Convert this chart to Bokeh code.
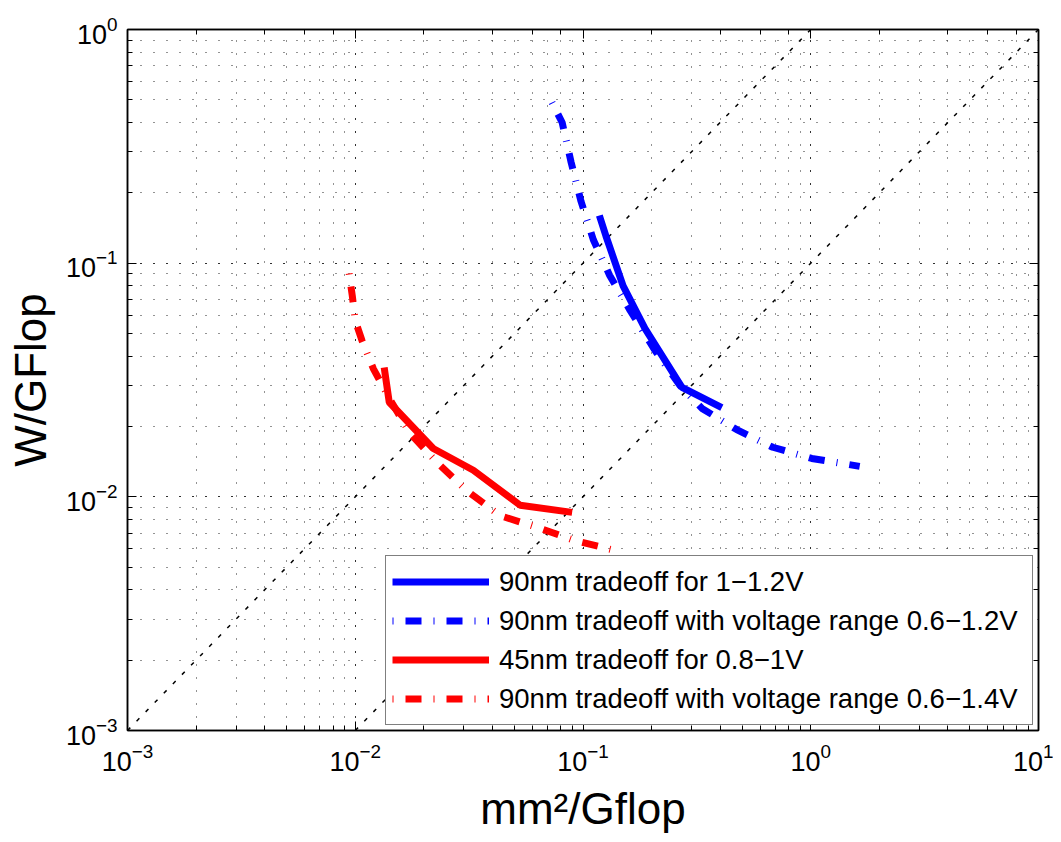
from bokeh.plotting import figure
from bokeh.models import Range1d, LogAxis, Legend, LegendItem
from bokeh.embed import file_html
from bokeh.resources import INLINE

# ---- data ----
blue_solid_x = [0.118, 0.126, 0.150, 0.187, 0.272, 0.407]
blue_solid_y = [0.160, 0.131, 0.080, 0.0526, 0.0294, 0.0241]

blue_dd_x = [0.0731, 0.081, 0.0887, 0.098, 0.111, 0.131, 0.161, 0.207, 0.266, 0.333, 0.473, 0.681, 1.01, 1.64]
blue_dd_y = [0.487, 0.40, 0.27, 0.184, 0.126, 0.0886, 0.0628, 0.0423, 0.030, 0.0239, 0.0194, 0.0163, 0.0146, 0.0135]

red_solid_x = [0.0134, 0.0141, 0.022, 0.033, 0.053, 0.0896]
red_solid_y = [0.0358, 0.0254, 0.0161, 0.013, 0.0092, 0.00858]

red_dd_x = [0.0094, 0.0097, 0.0100, 0.0107, 0.0120, 0.0143, 0.0174, 0.0231, 0.031, 0.0433, 0.063, 0.092, 0.138]
red_dd_y = [0.0903, 0.0728, 0.0569, 0.0467, 0.0354, 0.0258, 0.0187, 0.0139, 0.0106, 0.0083, 0.0074, 0.0065, 0.0059]

diag1_x = [1e-3, 1.0]
diag1_y = [1e-3, 1.0]
diag2_x = [1e-2, 10.0]
diag2_y = [1e-3, 1.0]

labels = [
    "90nm tradeoff for 1\u22121.2V",
    "90nm tradeoff with voltage range 0.6\u22121.2V",
    "45nm tradeoff for 0.8\u22121V",
    "90nm tradeoff with voltage range 0.6\u22121.4V",
]
x_label = "mm\u00b2/Gflop"
y_label = "W/GFlop"

FONT = "Liberation Sans"

p = figure(
    x_axis_type="log", y_axis_type="log",
    x_range=Range1d(1e-3, 10), y_range=Range1d(1e-3, 1),
    frame_width=911, frame_height=701,
    min_border_left=127, min_border_top=29, min_border_right=15, min_border_bottom=100,
    output_backend="svg", toolbar_location=None,
)
p.background_fill_color = "white"
p.border_fill_color = "white"
p.outline_line_color = "black"
p.outline_line_width = 1.5

# grid
for g in (p.xgrid, p.ygrid):
    g.grid_line_color = "black"
    g.grid_line_alpha = 0.85
    g.grid_line_dash = "1 12"
    g.minor_grid_line_color = "black"
    g.minor_grid_line_alpha = 0.85
    g.minor_grid_line_dash = "1 12"

def style_axis(ax, show_labels=True):
    ax.axis_line_color = "black"
    ax.axis_line_width = 1.5
    ax.major_tick_in = 9
    ax.major_tick_out = 0
    ax.minor_tick_in = 5
    ax.minor_tick_out = 0
    ax.major_tick_line_color = "black"
    ax.minor_tick_line_color = "black"
    ax.major_tick_line_width = 1
    ax.minor_tick_line_width = 1
    if show_labels:
        ax.major_label_text_font = FONT
        ax.major_label_text_font_size = "27px"
        ax.major_label_text_color = "black"
        ax.axis_label_text_font = FONT
        ax.axis_label_text_font_size = "44px"
        ax.axis_label_text_font_style = "normal"
        ax.axis_label_text_color = "black"
    else:
        ax.major_label_text_font_size = "2px"
        ax.major_label_text_alpha = 0.0
        ax.major_label_standoff = 0

style_axis(p.xaxis[0])
style_axis(p.yaxis[0])
p.xaxis[0].axis_label = x_label
p.yaxis[0].axis_label = y_label
p.xaxis[0].major_label_standoff = 12
p.yaxis[0].major_label_standoff = 10
p.xaxis[0].axis_label_standoff = 10
p.yaxis[0].axis_label_standoff = 8

top_ax = LogAxis()
right_ax = LogAxis()
style_axis(top_ax, False)
style_axis(right_ax, False)
p.add_layout(top_ax, "above")
p.add_layout(right_ax, "right")

# diagonal reference lines
p.line(diag1_x, diag1_y, line_color="black", line_width=1.5, line_dash="4 9")
p.line(diag2_x, diag2_y, line_color="black", line_width=1.5, line_dash="4 9")

DD = "1 12 16 12"
r1 = p.line(blue_solid_x, blue_solid_y, line_color="#0000ff", line_width=7)
r2 = p.line(blue_dd_x, blue_dd_y, line_color="#0000ff", line_width=7, line_dash=DD)
r3 = p.line(red_solid_x, red_solid_y, line_color="#ff0000", line_width=7)
r4 = p.line(red_dd_x, red_dd_y, line_color="#ff0000", line_width=7, line_dash=DD)

legend = Legend(
    items=[LegendItem(label=l, renderers=[r]) for l, r in zip(labels, [r1, r2, r3, r4])],
    location="bottom_right",
    margin=5, padding=6, spacing=0,
    glyph_width=97, glyph_height=39, label_height=39, label_width=527,
    label_standoff=10,
    label_text_font=FONT, label_text_font_size="27.5px", label_text_color="black",
    border_line_color="black", border_line_width=1.5,
    background_fill_color="white", background_fill_alpha=1.0,
)
p.add_layout(legend, "center")

open("out.html", "w").write(file_html(p, INLINE))
